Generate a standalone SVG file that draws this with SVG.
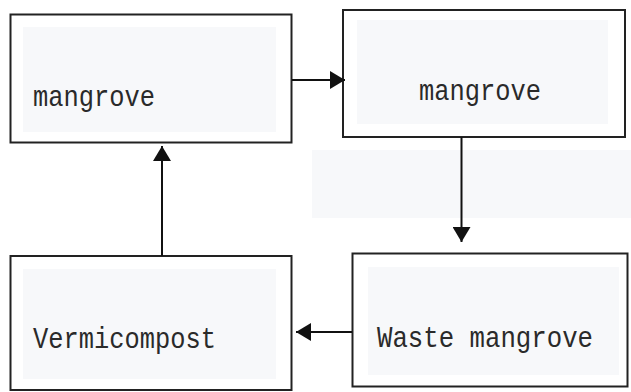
<svg xmlns="http://www.w3.org/2000/svg" width="631" height="392" viewBox="0 0 631 392">
<defs>
<style>
.box{fill:#fff;stroke:#222;stroke-width:2}
.inner{fill:#f7f8fa}
.lbl{font-family:"Liberation Mono","Courier New",monospace;font-size:25.5px;fill:#2a2a2a}
.conn{stroke:#111;stroke-width:2;fill:none}
</style>
<marker id="ah" markerUnits="userSpaceOnUse" markerWidth="16" markerHeight="18" refX="15" refY="9" orient="auto">
<path d="M0,0 L15,9 L0,18 Z" fill="#111"/>
</marker>
</defs>
<rect x="0" y="0" width="631" height="392" fill="#fff"/>
<rect x="312" y="150" width="319" height="68" fill="#f7f8fa"/>
<g id="node-mangrove-1">
<rect class="box" x="10.5" y="14.5" width="281" height="128"/>
<rect class="inner" x="23" y="27" width="253" height="105"/>
<text class="lbl" transform="translate(33,106) scale(1,1.16)" textLength="122" lengthAdjust="spacingAndGlyphs">mangrove</text>
</g>
<g id="node-mangrove-2">
<rect class="box" x="343" y="10" width="282" height="127"/>
<rect class="inner" x="357" y="20" width="251" height="104"/>
<text class="lbl" transform="translate(419,100) scale(1,1.16)" textLength="122" lengthAdjust="spacingAndGlyphs">mangrove</text>
</g>
<g id="node-waste">
<rect class="box" x="352.5" y="253.5" width="275" height="133"/>
<rect class="inner" x="368" y="267" width="251" height="108"/>
<text class="lbl" transform="translate(377,347) scale(1,1.16)" textLength="216" lengthAdjust="spacingAndGlyphs">Waste mangrove</text>
</g>
<g id="node-vermicompost">
<rect class="box" x="10.5" y="256" width="281" height="134"/>
<rect class="inner" x="23" y="269" width="253" height="110"/>
<text class="lbl" transform="translate(33,348) scale(1,1.16)" textLength="183" lengthAdjust="spacingAndGlyphs">Vermicompost</text>
</g>
<g id="connectors">
<line class="conn" x1="292" y1="80" x2="345" y2="80" marker-end="url(#ah)"/>
<line class="conn" x1="461.5" y1="137" x2="461.5" y2="242" marker-end="url(#ah)"/>
<line class="conn" x1="352" y1="332" x2="296" y2="332" marker-end="url(#ah)"/>
<line class="conn" x1="162" y1="256" x2="162" y2="146" marker-end="url(#ah)"/>
</g>
</svg>
